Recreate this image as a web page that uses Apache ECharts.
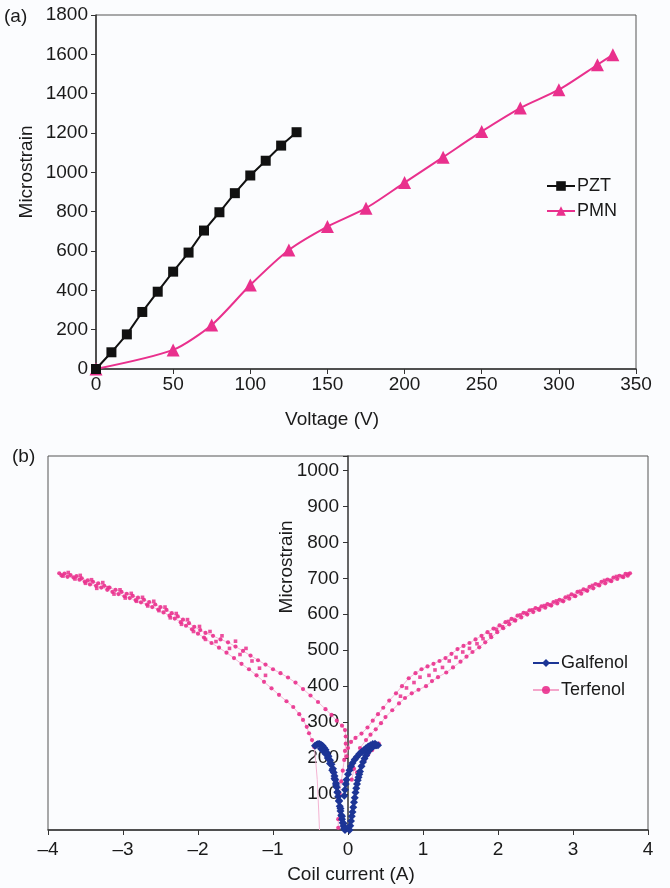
<!DOCTYPE html>
<html><head><meta charset="utf-8">
<script src="https://cdn.jsdelivr.net/npm/echarts@6/dist/echarts.min.js"></script>
<style>html,body{margin:0;padding:0;background:#fbfcfe;}#c{width:670px;height:888px;}</style>
</head><body><div id="c"></div>
<script>
// ---------- Panel (a) data ----------
const pztVoltage = [0,10,20,30,40,50,60,70,80,90,100,110,120,130];
const pztStrain  = [0,85,176,290,393,495,592,704,797,894,984,1059,1136,1204];
const pmnVoltage = [0,50,75,100,125,150,175,200,225,250,275,300,325,335];
const pmnStrain  = [0,97,224,427,605,724,818,948,1077,1208,1327,1420,1547,1598];
const voltTicks = [0,50,100,150,200,250,300,350];
const strainTicksA = [0,200,400,600,800,1000,1200,1400,1600,1800];

// ---------- Panel (b) data: [coil current (A), microstrain] ----------
const galLeftOuter = [[-0.44,234],[-0.42,237],[-0.40,239],[-0.38,239],[-0.36,237],[-0.34,234],[-0.32,229],[-0.30,223],[-0.28,215],[-0.26,205],[-0.24,194],[-0.22,183],[-0.20,170],[-0.19,160],[-0.18,150],[-0.17,140],[-0.16,130],[-0.15,119],[-0.14,106],[-0.13,93],[-0.12,80],[-0.11,66],[-0.10,53],[-0.09,41],[-0.08,30],[-0.07,20],[-0.06,11],[-0.05,4],[-0.04,0]];
const galLeftInner = [[-0.36,226],[-0.33,220],[-0.30,212],[-0.27,200],[-0.24,185],[-0.21,166],[-0.18,143],[-0.16,125],[-0.14,104],[-0.12,82],[-0.10,60],[-0.08,38],[-0.06,18],[-0.04,5]];
const galRightOuter = [[0.02,0],[0.03,12],[0.04,25],[0.05,38],[0.06,50],[0.07,63],[0.08,77],[0.09,90],[0.10,104],[0.11,116],[0.12,128],[0.13,138],[0.14,147],[0.15,155],[0.16,163],[0.18,177],[0.20,189],[0.22,199],[0.24,207],[0.26,215],[0.28,221],[0.30,226],[0.32,230],[0.34,233],[0.36,235],[0.38,236],[0.40,236]];
const galRightInner = [[-0.05,95],[-0.04,112],[-0.03,128],[-0.02,140],[0.0,155],[0.02,166],[0.04,177],[0.06,186],[0.09,196],[0.12,204],[0.15,211],[0.18,217],[0.21,222],[0.24,227],[0.27,232],[0.30,236],[0.33,239],[0.36,240]];

const terLeftUpper = [[-3.85,714],[-3.78,713],[-3.7,709],[-3.62,706],[-3.55,700],[-3.47,694],[-3.4,690],[-3.33,686],[-3.25,679],[-3.18,674],[-3.1,668],[-3.02,662],[-2.95,657],[-2.87,651],[-2.8,646],[-2.72,640],[-2.65,634],[-2.57,627],[-2.5,620],[-2.42,612],[-2.35,603],[-2.27,594],[-2.2,585],[-2.12,575],[-2.05,565],[-1.97,556],[-1.9,548],[-1.8,540],[-1.7,530],[-1.6,522],[-1.5,510],[-1.4,498],[-1.3,485],[-1.2,472],[-1.1,460],[-1.0,447],[-0.9,436],[-0.8,424],[-0.7,410],[-0.6,392],[-0.5,374],[-0.4,356],[-0.3,336],[-0.22,320],[-0.15,304],[-0.08,290],[-0.04,278],[-0.03,260],[-0.03,240],[-0.04,220],[-0.05,195],[-0.07,165],[-0.09,135],[-0.11,100],[-0.12,65],[-0.13,30],[-0.13,6]];
const terLeftLower = [[-3.82,708],[-3.74,704],[-3.66,702],[-3.58,696],[-3.51,690],[-3.44,683],[-3.36,679],[-3.29,674],[-3.21,668],[-3.14,662],[-3.06,656],[-2.98,650],[-2.91,645],[-2.83,639],[-2.76,633],[-2.68,627],[-2.61,620],[-2.53,613],[-2.46,605],[-2.38,596],[-2.31,588],[-2.23,578],[-2.16,568],[-2.08,558],[-2.0,546],[-1.92,535],[-1.82,520],[-1.72,507],[-1.62,493],[-1.52,478],[-1.42,462],[-1.32,447],[-1.22,430],[-1.12,412],[-1.02,394],[-0.92,376],[-0.82,358],[-0.73,342],[-0.65,322],[-0.6,306],[-0.55,287],[-0.52,269],[-0.48,250],[-0.45,231]];
const terLeftTail = [[-0.45,231],[-0.43,190],[-0.41,140],[-0.4,95],[-0.39,50],[-0.38,0]];
const terLeftExtra = [[-3.8,706],[-3.73,716],[-3.64,698],[-3.57,708],[-3.5,686],[-3.42,696],[-3.35,672],[-3.27,688],[-3.2,674],[-3.12,656],[-3.04,668],[-2.97,645],[-2.89,658],[-2.82,636],[-2.74,647],[-2.67,623],[-2.59,636],[-2.52,610],[-2.44,620],[-2.37,590],[-2.29,602],[-2.22,572],[-2.14,585],[-2.06,552],[-1.98,566],[-1.9,530],[-1.84,552],[-1.76,524],[-1.68,540],[-1.58,505],[-1.5,525],[-1.44,488],[-1.36,505],[-1.28,470],[-1.18,450],[-1.1,430]];
const terRightUpper = [[-0.02,205],[0.0,228],[0.04,245],[0.1,256],[0.18,268],[0.26,285],[0.33,304],[0.4,322],[0.47,340],[0.55,360],[0.64,380],[0.72,400],[0.81,422],[0.9,436],[0.98,447],[1.06,455],[1.14,462],[1.22,470],[1.3,478],[1.38,490],[1.46,503],[1.54,512],[1.62,520],[1.7,530],[1.78,540],[1.86,550],[1.94,560],[2.02,569],[2.1,578],[2.18,587],[2.26,596],[2.34,604],[2.42,611],[2.5,617],[2.58,622],[2.66,628],[2.74,634],[2.82,640],[2.9,647],[2.98,655],[3.06,662],[3.14,669],[3.22,676],[3.3,684],[3.38,690],[3.46,696],[3.54,702],[3.62,707],[3.7,712],[3.76,714]];
const terRightLower = [[0.05,140],[0.08,170],[0.1,200],[0.16,228],[0.24,250],[0.3,265],[0.37,280],[0.44,297],[0.5,314],[0.59,333],[0.68,352],[0.76,367],[0.85,380],[0.94,390],[1.04,400],[1.12,414],[1.2,425],[1.31,438],[1.4,452],[1.5,468],[1.58,482],[1.66,495],[1.75,508],[1.83,522],[1.91,536],[1.99,550],[2.07,561],[2.15,572],[2.23,582],[2.31,591],[2.39,599],[2.47,606],[2.55,612],[2.63,618],[2.71,624],[2.79,630],[2.87,636],[2.95,643],[3.03,650],[3.11,657],[3.19,665],[3.27,672],[3.35,680],[3.43,686],[3.51,692],[3.59,698],[3.67,703],[3.73,707]];
const terRightExtra = [[0.7,372],[0.78,395],[0.88,410],[0.96,425],[1.08,430],[1.16,445],[1.26,452],[1.35,470],[1.44,480],[1.53,495],[1.62,505],[1.72,518],[1.8,532],[1.9,543],[1.98,558],[2.06,565],[2.14,580],[2.22,584],[2.3,598],[2.38,603],[2.46,612],[2.54,615],[2.62,624],[2.7,626],[2.78,637],[2.86,638],[2.94,650],[3.02,652],[3.1,664],[3.18,667],[3.26,680],[3.34,682],[3.42,694],[3.5,694],[3.58,705],[3.66,705],[3.74,712]];
const terInner = [[0.12,160],[0.17,178],[0.22,195],[0.27,210],[0.32,222],[0.37,233],[0.41,240]];
const currentTicks = [-4,-3,-2,-1,0,1,2,3,4];
const strainTicksB = [100,200,300,400,500,600,700,800,900,1000];

// ---------- styling ----------
const FONT = '"Liberation Sans", Arial, Helvetica, sans-serif';
const TXT = '#1a1a1a';
const AX = '#333';
const PINK = '#e9308d';
const BLUE = '#1c3596';
const W = 670;
const gridB = {left:48, right:22};
const yMaxB = 1040;

function zip(a,b){ return a.map((v,i)=>[v,b[i]]); }
const lbl = {fontFamily: FONT, fontSize: 19, color: TXT};

const series = [
  {name:'PZT', type:'line', xAxisIndex:0, yAxisIndex:0, data: zip(pztVoltage, pztStrain),
   symbol:'rect', symbolSize:10, itemStyle:{color:'#111'}, lineStyle:{color:'#111', width:2}, z:3},
  {name:'PMN', type:'line', xAxisIndex:0, yAxisIndex:0, data: zip(pmnVoltage, pmnStrain), smooth:0.25,
   symbol:'triangle', symbolSize:13, itemStyle:{color:PINK}, lineStyle:{color:PINK, width:2}, z:2},
];
[terLeftUpper, terLeftLower, terRightUpper, terRightLower, terInner].forEach(d => series.push({
  name:'Terfenol', type:'line', xAxisIndex:1, yAxisIndex:1, data:d,
  symbol:'circle', symbolSize:4.2, itemStyle:{color:PINK, opacity:0.9},
  lineStyle:{color:'#f4a6cb', width:0.8}, z:2}));
series.push({name:'Terfenol', type:'line', xAxisIndex:1, yAxisIndex:1, data:terLeftTail,
  showSymbol:false, lineStyle:{color:'#f4b3d2', width:1}, z:1});
[terLeftExtra, terRightExtra].forEach(d => series.push({
  name:'Terfenol', type:'line', xAxisIndex:1, yAxisIndex:1, data:d,
  symbol:'rect', symbolSize:3.6, itemStyle:{color:PINK, opacity:0.85},
  lineStyle:{width:0, opacity:0}, z:2}));
[galLeftOuter, galLeftInner, galRightOuter, galRightInner].forEach(d => series.push({
  name:'Galfenol', type:'line', xAxisIndex:1, yAxisIndex:1, data:d,
  symbol:'diamond', symbolSize:8, itemStyle:{color:BLUE}, lineStyle:{color:BLUE, width:1.5}, z:3}));

// y axis of panel (b) sits at zero current
const xMinB = currentTicks[0], xMaxB = currentTicks[currentTicks.length-1];
const gridWB = W - gridB.left - gridB.right;
const yOffsetB = -gridWB * (0 - xMinB) / (xMaxB - xMinB);

const option = {
  animation:false,
  backgroundColor:'#fbfcfe',
  textStyle:{fontFamily:FONT},
  grid:[
    {left:96, right:34, top:15, height:354, show:true, borderColor:'#555', borderWidth:1, backgroundColor:'#fbfcfe'},
    {left:gridB.left, right:gridB.right, top:456, height:374, show:true, borderColor:'#555', borderWidth:1, backgroundColor:'#fbfcfe'}
  ],
  xAxis:[
    {type:'value', gridIndex:0, min:voltTicks[0], max:voltTicks[voltTicks.length-1], interval:50,
     axisLine:{lineStyle:{color:AX, width:1.5}}, axisTick:{length:5, lineStyle:{color:AX}},
     axisLabel:Object.assign({margin:6, formatter:v=>String(v)}, lbl), splitLine:{show:false}},
    {type:'value', gridIndex:1, min:xMinB, max:xMaxB, interval:1,
     axisLine:{onZero:false, lineStyle:{color:AX, width:1.5}}, axisTick:{length:5, lineStyle:{color:AX}},
     axisLabel:Object.assign({margin:10, formatter:v=>String(v).replace('-','\u2013')}, lbl), splitLine:{show:false}}
  ],
  yAxis:[
    {type:'value', gridIndex:0, min:strainTicksA[0], max:strainTicksA[strainTicksA.length-1], interval:200,
     axisLine:{show:true, lineStyle:{color:AX, width:1.5}}, axisTick:{show:true, length:5, lineStyle:{color:AX}},
     axisLabel:Object.assign({margin:8, formatter:v=>String(v)}, lbl), splitLine:{show:false}},
    {type:'value', gridIndex:1, min:0, max:yMaxB, interval:100, offset:yOffsetB,
     axisLine:{show:true, onZero:false, lineStyle:{color:AX, width:1.5}}, axisTick:{show:true, length:5, lineStyle:{color:AX}},
     axisLabel:Object.assign({margin:9, formatter:v=>(strainTicksB.indexOf(v)>=0 ? String(v) : '')}, lbl),
     splitLine:{show:false}}
  ],
  legend:[
    {data:['PZT','PMN'], orient:'vertical', left:541, top:172, itemGap:7, itemWidth:28, itemHeight:12,
     textStyle:{fontFamily:FONT, fontSize:18, color:TXT, padding:[0,0,0,-3]}},
    {data:['Galfenol','Terfenol'], orient:'vertical', left:527, top:649, itemGap:9, itemWidth:26, itemHeight:10,
     textStyle:{fontFamily:FONT, fontSize:18, color:TXT, padding:[0,0,0,-3]}}
  ],
  graphic:[
    {type:'text', left:4, top:7, style:{text:'(a)', font:'19px '+FONT, fill:TXT}},
    {type:'text', left:12, top:447, style:{text:'(b)', font:'19px '+FONT, fill:TXT}},
    {type:'text', x:27, y:172, rotation:Math.PI/2, style:{text:'Microstrain', font:'19px '+FONT, fill:TXT, align:'center', verticalAlign:'middle'}},
    {type:'text', x:332, y:420, style:{text:'Voltage (V)', font:'19px '+FONT, fill:TXT, align:'center', verticalAlign:'middle'}},
    {type:'text', x:287, y:567, rotation:Math.PI/2, style:{text:'Microstrain', font:'19px '+FONT, fill:TXT, align:'center', verticalAlign:'middle'}},
    {type:'text', x:351, y:875, style:{text:'Coil current (A)', font:'19px '+FONT, fill:TXT, align:'center', verticalAlign:'middle'}}
  ],
  series: series
};
const chart = echarts.init(document.getElementById('c'), null, {renderer:'canvas'});
chart.setOption(option);
</script></body></html>
